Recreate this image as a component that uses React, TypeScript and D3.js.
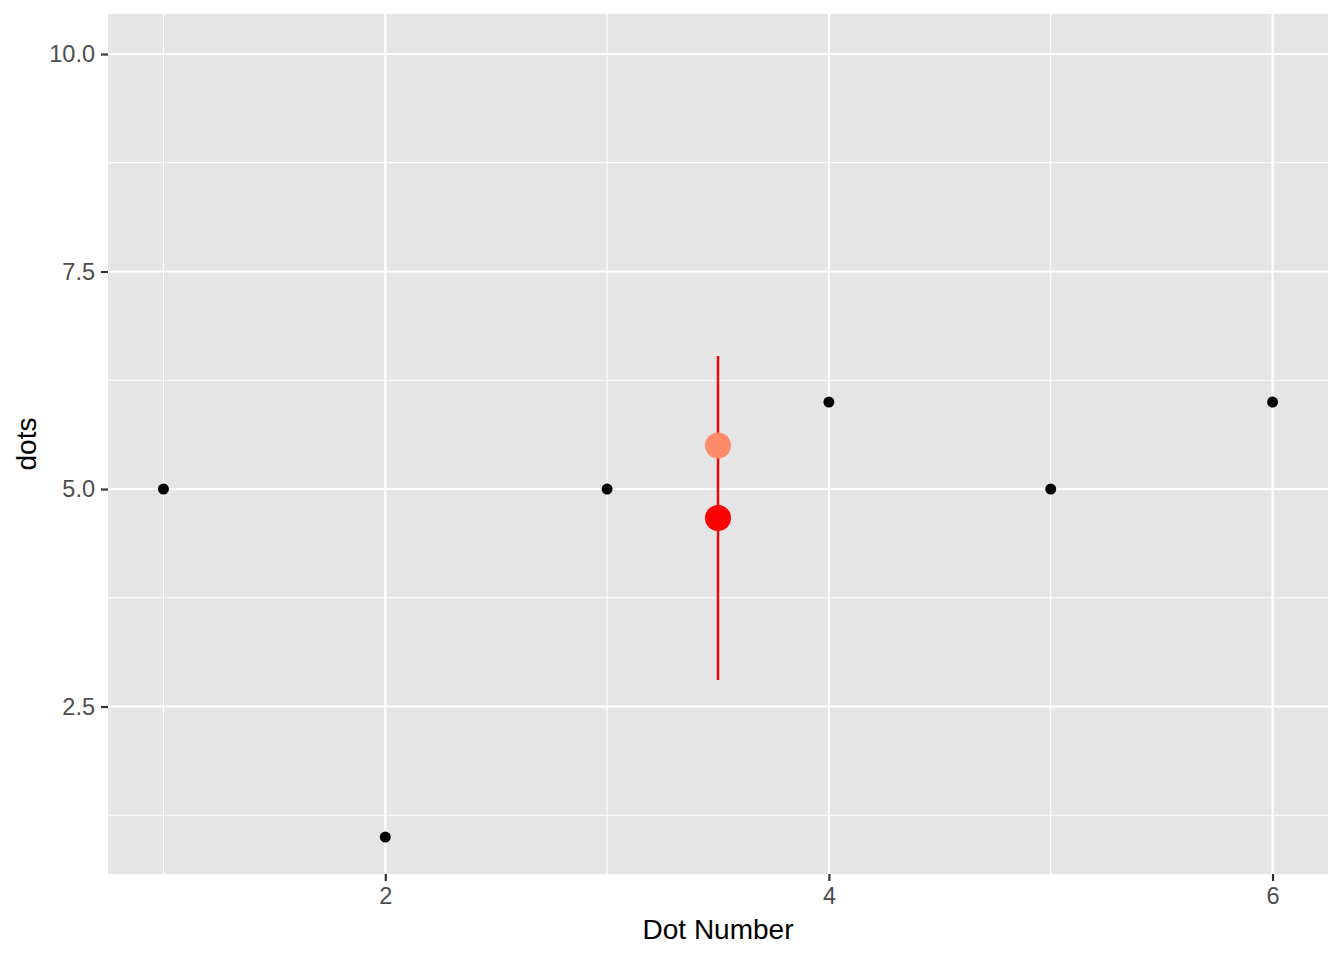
import { useEffect, useRef } from "react";
import * as d3 from "d3";

const dotNumber = [1, 2, 3, 4, 5, 6];
const dots = [5, 1, 5, 6, 5, 6];
const summaryX = 3.5;
const meanValue = 4.667;
const otherValue = 5.5;
const errLow = 2.805;
const errHigh = 6.529;
const xTicks = [2, 4, 6];
const xMinor = [1, 3, 5];
const yTicks = [2.5, 5.0, 7.5, 10.0];
const yMinor = [1.25, 3.75, 6.25, 8.75];

const W = 1344;
const H = 960;
const left = 108;
const right = 1328;
const top = 14;
const bottom = 874;
const font = "Liberation Sans, Arial, sans-serif";

const App = () => {
  const ref = useRef<SVGSVGElement | null>(null);

  useEffect(() => {
    const svg = d3.select(ref.current);
    svg.selectAll("*").remove();

    const x = d3.scaleLinear().domain([0.75, 6.25]).range([left, right]);
    const y = d3.scaleLinear().domain([0.575, 10.46]).range([bottom, top]);

    svg
      .append("rect")
      .attr("x", left)
      .attr("y", top)
      .attr("width", right - left)
      .attr("height", bottom - top)
      .attr("fill", "#E5E5E5");

    // minor grid
    svg
      .selectAll(".xminor")
      .data(xMinor)
      .enter()
      .append("line")
      .attr("x1", (d) => x(d))
      .attr("x2", (d) => x(d))
      .attr("y1", top)
      .attr("y2", bottom)
      .attr("stroke", "#FFFFFF")
      .attr("stroke-width", 1.1);
    svg
      .selectAll(".yminor")
      .data(yMinor)
      .enter()
      .append("line")
      .attr("x1", left)
      .attr("x2", right)
      .attr("y1", (d) => y(d))
      .attr("y2", (d) => y(d))
      .attr("stroke", "#FFFFFF")
      .attr("stroke-width", 1.1);

    // major grid
    svg
      .selectAll(".xmajor")
      .data(xTicks)
      .enter()
      .append("line")
      .attr("x1", (d) => x(d))
      .attr("x2", (d) => x(d))
      .attr("y1", top)
      .attr("y2", bottom)
      .attr("stroke", "#FFFFFF")
      .attr("stroke-width", 2.2);
    svg
      .selectAll(".ymajor")
      .data(yTicks)
      .enter()
      .append("line")
      .attr("x1", left)
      .attr("x2", right)
      .attr("y1", (d) => y(d))
      .attr("y2", (d) => y(d))
      .attr("stroke", "#FFFFFF")
      .attr("stroke-width", 2.2);

    // axes
    const xAxis = svg
      .append("g")
      .attr("transform", `translate(0,${bottom})`)
      .call(
        d3
          .axisBottom(x)
          .tickValues(xTicks)
          .tickSize(7)
          .tickPadding(6)
          .tickFormat(d3.format("d"))
      );
    xAxis.select(".domain").remove();
    xAxis.selectAll("line").attr("stroke", "#333333").attr("stroke-width", 2.2);
    xAxis
      .selectAll("text")
      .attr("fill", "#4D4D4D")
      .style("font-size", "23.5px")
      .style("font-family", font);

    const yAxis = svg
      .append("g")
      .attr("transform", `translate(${left},0)`)
      .call(
        d3
          .axisLeft(y)
          .tickValues(yTicks)
          .tickSize(7)
          .tickPadding(6)
          .tickFormat(d3.format(".1f"))
      );
    yAxis.select(".domain").remove();
    yAxis.selectAll("line").attr("stroke", "#333333").attr("stroke-width", 2.2);
    yAxis
      .selectAll("text")
      .attr("fill", "#4D4D4D")
      .style("font-size", "23.5px")
      .style("font-family", font);

    // error bar
    svg
      .append("line")
      .attr("x1", x(summaryX))
      .attr("x2", x(summaryX))
      .attr("y1", y(errLow))
      .attr("y2", y(errHigh))
      .attr("stroke", "#FF0000")
      .attr("stroke-width", 2.4);

    // points
    svg
      .selectAll(".pt")
      .data(dotNumber)
      .enter()
      .append("circle")
      .attr("cx", (d) => x(d))
      .attr("cy", (_, i) => y(dots[i]))
      .attr("r", 5.5)
      .attr("fill", "#000000");

    svg
      .append("circle")
      .attr("cx", x(summaryX))
      .attr("cy", y(otherValue))
      .attr("r", 13)
      .attr("fill", "#FF8C69");

    svg
      .append("circle")
      .attr("cx", x(summaryX))
      .attr("cy", y(meanValue))
      .attr("r", 13)
      .attr("fill", "#FF0000");

    // titles
    svg
      .append("text")
      .attr("x", (left + right) / 2)
      .attr("y", 939)
      .attr("text-anchor", "middle")
      .style("font-size", "28px")
      .style("font-family", font)
      .attr("fill", "#000000")
      .text("Dot Number");

    svg
      .append("text")
      .attr("transform", `translate(36,${(top + bottom) / 2}) rotate(-90)`)
      .attr("text-anchor", "middle")
      .style("font-size", "28px")
      .style("font-family", font)
      .attr("fill", "#000000")
      .text("dots");
  }, []);

  return (
    <svg
      ref={ref}
      width={W}
      height={H}
      style={{ position: "absolute", left: 0, top: 0, background: "#FFFFFF" }}
    />
  );
};

export default App;
